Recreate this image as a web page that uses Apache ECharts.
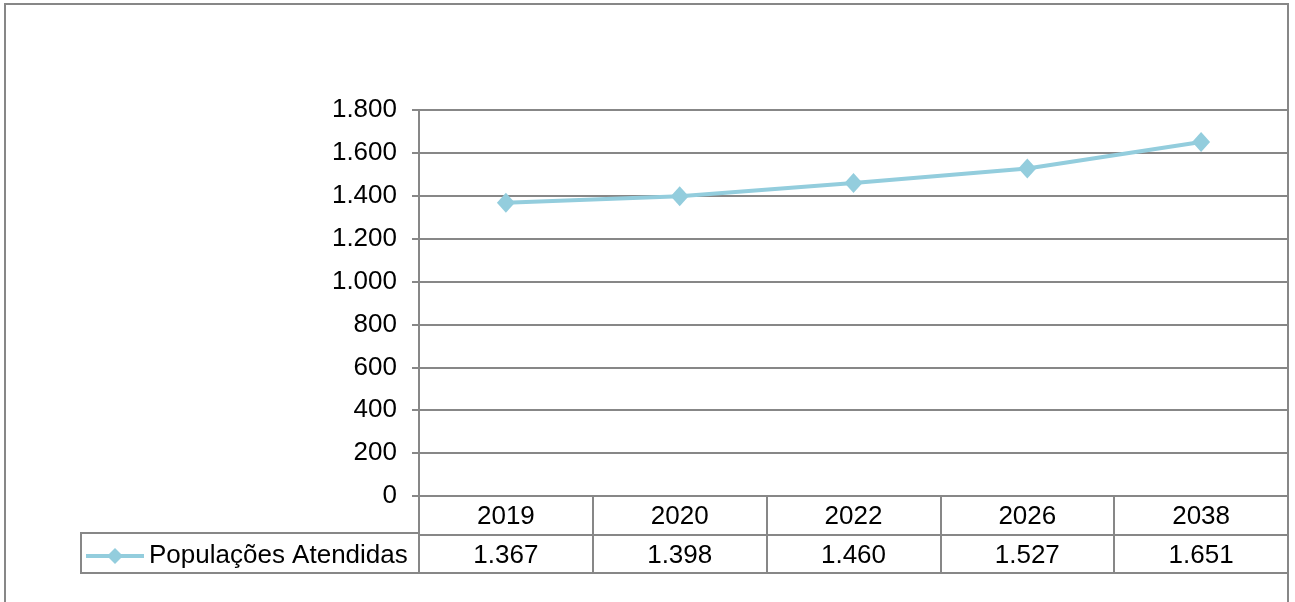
<!DOCTYPE html>
<html>
<head>
<meta charset="utf-8">
<script src="https://cdn.jsdelivr.net/npm/echarts@6/dist/echarts.min.js"></script>
<style>
  html, body { margin: 0; padding: 0; background: #fff; }
  #main { width: 1295px; height: 602px; }
</style>
</head>
<body>
<div id="main"></div>
<script>
// dados do gráfico
var anos = ['2019', '2020', '2022', '2026', '2038'];
var populacoes = [1367, 1398, 1460, 1527, 1651];
var nomeSerie = 'Populações Atendidas';
var linhasTabela = ['anos', 'valores'];

function fmt(v) {
    return String(v).replace(/\B(?=(\d{3})+(?!\d))/g, '.');
}

var fonte = 'Liberation Sans, Arial, sans-serif';
var cinza = '#878787';
var azul = '#93cddd';
var tam = 26;

// células da tabela (ano e valor por coluna)
var celulas = [];
anos.forEach(function (a, i) {
    celulas.push({ value: [a, 'anos'], txt: a });
    celulas.push({ value: [a, 'valores'], txt: fmt(populacoes[i]) });
});

var myChart = echarts.init(document.getElementById('main'));
var option = {
    animation: false,
    backgroundColor: '#fff',
    textStyle: { fontFamily: fonte },
    graphic: [
        { type: 'rect', shape: { x: 5, y: 4, width: 1283, height: 700 },
          style: { fill: 'none', stroke: cinza, lineWidth: 2 }, z: -1 },
        { type: 'rect', shape: { x: 81, y: 533, width: 338, height: 40 },
          style: { fill: 'none', stroke: cinza, lineWidth: 2 }, z: 1 }
    ],
    legend: {
        data: [nomeSerie],
        left: 79,
        top: 538,
        itemWidth: 58,
        itemHeight: 20,
        itemGap: 0,
        lineStyle: { width: 4 },
        textStyle: { fontSize: tam, color: '#000', fontFamily: fonte, padding: [0, 0, 0, 0] }
    },
    grid: [
        { left: 419, top: 110, width: 869, height: 386, show: false },
        { left: 419, top: 496, width: 869, height: 77, show: true,
          borderColor: cinza, borderWidth: 2, backgroundColor: 'transparent' }
    ],
    xAxis: [
        { type: 'category', gridIndex: 0, data: anos, boundaryGap: true,
          axisLine: { show: true, lineStyle: { color: cinza, width: 2 } },
          axisTick: { show: false }, axisLabel: { show: false }, splitLine: { show: false } },
        { type: 'category', gridIndex: 1, data: anos, boundaryGap: true,
          axisLine: { show: false }, axisTick: { show: false }, axisLabel: { show: false },
          splitLine: { show: true, interval: 0, lineStyle: { color: cinza, width: 2 } } }
    ],
    yAxis: [
        { type: 'value', gridIndex: 0, min: 0, max: 1800, interval: 200,
          axisLine: { show: true, lineStyle: { color: cinza, width: 2 } },
          axisTick: { show: true, length: 7, lineStyle: { color: cinza, width: 2 } },
          axisLabel: { color: '#000', fontSize: tam, margin: 22, fontFamily: fonte,
                       formatter: function (v) { return fmt(v); } },
          splitLine: { show: true, lineStyle: { color: cinza, width: 2 } } },
        { type: 'category', gridIndex: 1, data: linhasTabela, inverse: true, boundaryGap: true,
          axisLine: { show: false }, axisTick: { show: false }, axisLabel: { show: false },
          splitLine: { show: true, interval: 0, lineStyle: { color: cinza, width: 2 } } }
    ],
    series: [
        {
            name: nomeSerie,
            type: 'line',
            xAxisIndex: 0,
            yAxisIndex: 0,
            data: populacoes,
            symbol: 'diamond',
            symbolSize: [18, 20],
            lineStyle: { color: azul, width: 4 },
            itemStyle: { color: azul },
            z: 5
        },
        {
            name: 'tabela',
            type: 'scatter',
            xAxisIndex: 1,
            yAxisIndex: 1,
            symbolSize: 1,
            itemStyle: { color: 'rgba(0,0,0,0)', opacity: 1 },
            data: celulas,
            silent: true,
            label: {
                show: true,
                position: 'inside',
                color: '#000',
                opacity: 1,
                textBorderWidth: 0,
                fontSize: tam,
                fontFamily: fonte,
                offset: [0, 2],
                formatter: function (p) { return p.data.txt; }
            }
        }
    ]
};
myChart.setOption(option);
</script>
</body>
</html>
